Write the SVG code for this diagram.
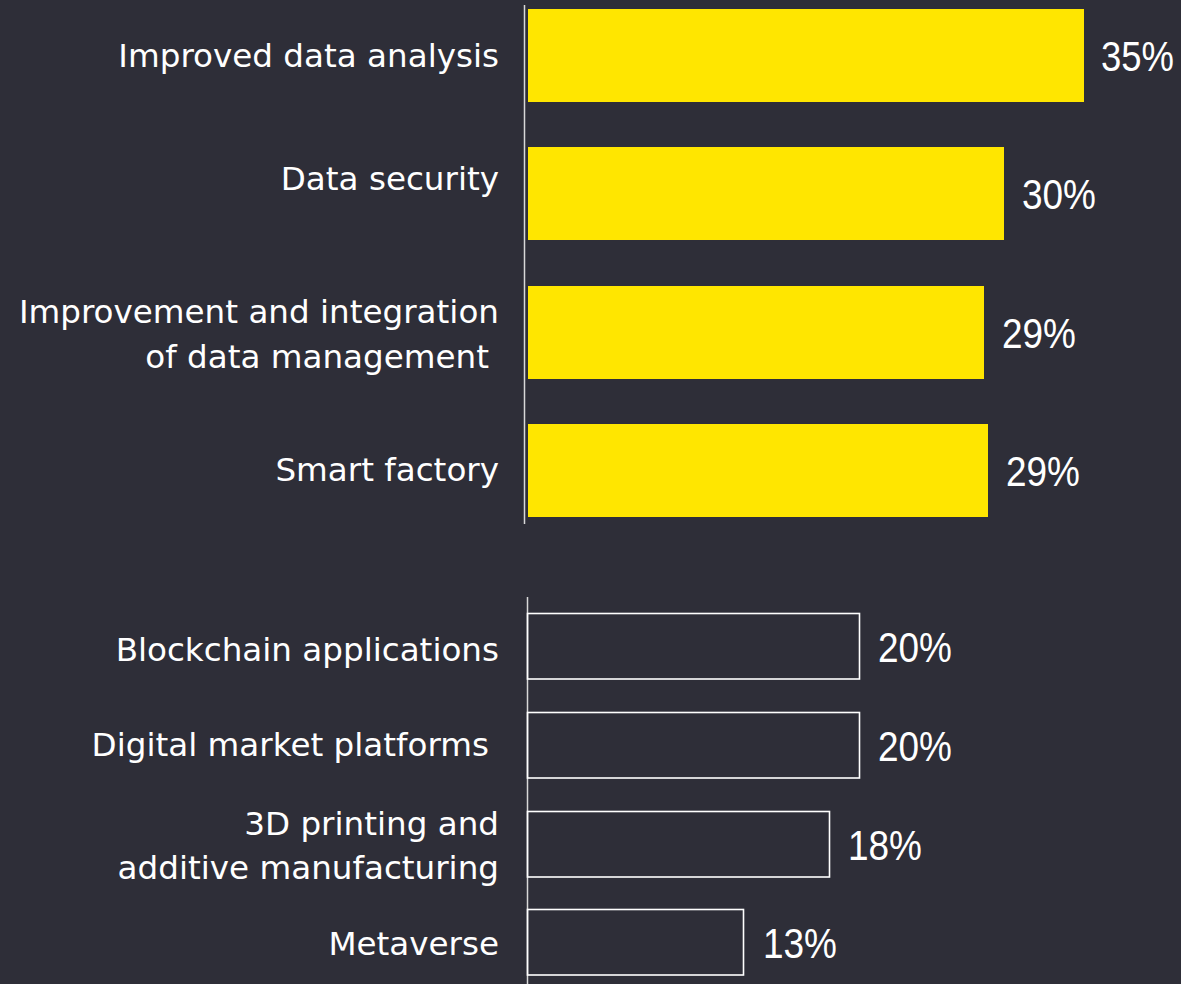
<svg xmlns="http://www.w3.org/2000/svg" width="1181" height="984" viewBox="0 0 1181 984">
<style>
.lbl{font-family:"DejaVu Sans","Liberation Sans",sans-serif;font-size:32.6px;fill:#ffffff;text-anchor:end}
.pct{font-family:"Liberation Sans","DejaVu Sans",sans-serif;font-size:43px;fill:#ffffff}
.bar{fill:#ffe600}
.obar{fill:none;stroke:#ffffff;stroke-width:1.6}
.axis{stroke:#d8d8d8;stroke-width:1.5;fill:none}
</style>
<rect x="0" y="0" width="1181" height="984" fill="#2e2e38"/>
<g id="axes">
<line class="axis" x1="524.5" y1="5" x2="524.5" y2="524"/>
<line class="axis" x1="527.5" y1="597" x2="527.5" y2="984" stroke="#ffffff"/>
</g>
<g id="row1">
<rect class="bar" x="528" y="9" width="556" height="93"/>
<text class="lbl" x="499" y="67">Improved data analysis</text>
<text class="pct" x="1101" y="71" textLength="73" lengthAdjust="spacingAndGlyphs">35%</text>
</g>
<g id="row2">
<rect class="bar" x="528" y="147" width="476" height="93"/>
<text class="lbl" x="499" y="190">Data security</text>
<text class="pct" x="1022" y="209" textLength="74" lengthAdjust="spacingAndGlyphs">30%</text>
</g>
<g id="row3">
<rect class="bar" x="528" y="286" width="456" height="93"/>
<text class="lbl" x="499" y="323">Improvement and integration</text>
<text class="lbl" x="489" y="368">of data management</text>
<text class="pct" x="1002" y="348" textLength="74" lengthAdjust="spacingAndGlyphs">29%</text>
</g>
<g id="row4">
<rect class="bar" x="528" y="424" width="460" height="93"/>
<text class="lbl" x="499" y="481">Smart factory</text>
<text class="pct" x="1006" y="486" textLength="74" lengthAdjust="spacingAndGlyphs">29%</text>
</g>
<g id="row5">
<rect class="obar" x="527.5" y="613.5" width="332" height="65.5"/>
<text class="lbl" x="499" y="661">Blockchain applications</text>
<text class="pct" x="878" y="662" textLength="74" lengthAdjust="spacingAndGlyphs">20%</text>
</g>
<g id="row6">
<rect class="obar" x="527.5" y="712.5" width="332" height="65.5"/>
<text class="lbl" x="489" y="756">Digital market platforms</text>
<text class="pct" x="878" y="761" textLength="74" lengthAdjust="spacingAndGlyphs">20%</text>
</g>
<g id="row7">
<rect class="obar" x="527.5" y="811.5" width="302" height="65.5"/>
<text class="lbl" x="499" y="835">3D printing and</text>
<text class="lbl" x="499" y="879">additive manufacturing</text>
<text class="pct" x="848" y="860" textLength="74" lengthAdjust="spacingAndGlyphs">18%</text>
</g>
<g id="row8">
<rect class="obar" x="527.5" y="909.5" width="216" height="65.5"/>
<text class="lbl" x="499" y="955">Metaverse</text>
<text class="pct" x="763" y="958" textLength="74" lengthAdjust="spacingAndGlyphs">13%</text>
</g>
</svg>
